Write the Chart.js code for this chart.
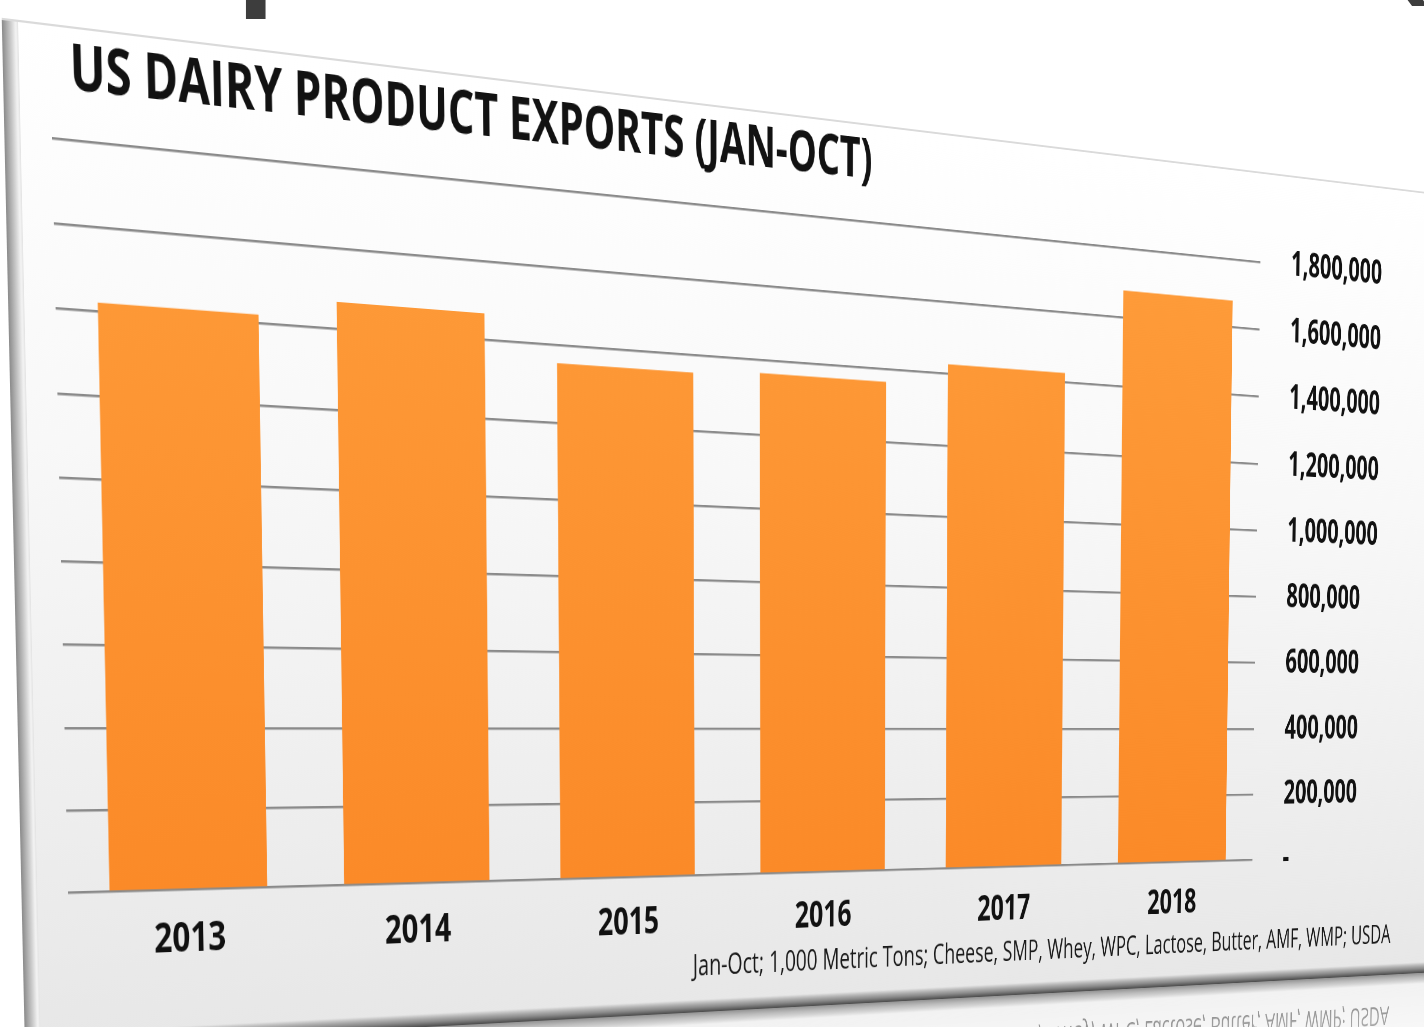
<!DOCTYPE html>
<html>
<head>
<meta charset="utf-8">
<title>US Dairy Product Exports</title>
<script src="https://cdn.jsdelivr.net/npm/chart.js@4.4.1/dist/chart.umd.min.js"></script>
<style>
  html, body { margin: 0; padding: 0; background: #fff; width: 1424px; height: 1027px; overflow: hidden; position: relative; }
  #card {
    position: absolute; left: 0; top: 0;
    transform-origin: 0 0;
    -webkit-box-reflect: below 0px linear-gradient(to bottom, transparent 82%, rgba(0, 0, 0, 0.6));
  }
  #slideHead { position: absolute; left: 0; top: 0; }
</style>
</head>
<body>
<svg id="slideHead" width="1424" height="60">
  <text x="232" y="-22" font-family="Open Sans" font-weight="600" font-size="170" fill="#3d3d3d">p</text>
  <text x="1384" y="-18" font-family="Open Sans" font-weight="600" font-size="150" fill="#3d3d3d">(</text>
</svg>
<canvas id="card" width="2600" height="992"></canvas>
<script>
const years = ['2013', '2014', '2015', '2016', '2017', '2018'];
const exportTons = [1422000, 1468000, 1354000, 1366000, 1427000, 1678000];
const yMax = 1800000;
const yStep = 200000;
const chartTitle = 'US DAIRY PRODUCT EXPORTS (JAN-OCT)';
const sourceNote = 'Jan-Oct; 1,000 Metric Tons; Cheese, SMP, Whey, WPC, Lactose, Butter, AMF, WMP; USDA';

// where the plot corners land once the card is tilted (TL, TR, BR, BL)
const plotQuad = [[52, 138], [1260, 262], [1252, 860], [68, 893]];

// unit square -> quad homography, rows of a 3x3 matrix
function squareToQuad(q) {
  const [x0, y0] = q[0], [x1, y1] = q[1], [x2, y2] = q[2], [x3, y3] = q[3];
  const dx1 = x1 - x2, dx2 = x3 - x2, dx3 = x0 - x1 + x2 - x3;
  const dy1 = y1 - y2, dy2 = y3 - y2, dy3 = y0 - y1 + y2 - y3;
  const den = dx1 * dy2 - dx2 * dy1;
  const g = (dx3 * dy2 - dx2 * dy3) / den;
  const h = (dx1 * dy3 - dx3 * dy1) / den;
  return [
    [x1 - x0 + g * x1, x3 - x0 + h * x3, x0],
    [y1 - y0 + g * y1, y3 - y0 + h * y3, y0],
    [g, h, 1]
  ];
}

const barFill = (c) => {
  const { ctx, chartArea } = c.chart;
  if (!chartArea) return '#fd9433';
  const g = ctx.createLinearGradient(0, chartArea.top, 0, chartArea.bottom);
  g.addColorStop(0, '#fe9c3a');
  g.addColorStop(1, '#fb8a28');
  return g;
};

const EDGE = 20;

// card background, bevelled edges, title and source line
const cardFace = {
  id: 'cardFace',
  beforeDraw(chart) {
    const { ctx, width, height } = chart;
    ctx.save();
    const bg = ctx.createLinearGradient(0, 0, 0, height);
    bg.addColorStop(0, '#ffffff');
    bg.addColorStop(0.4, '#f8f8f8');
    bg.addColorStop(1, '#e7e7e7');
    ctx.fillStyle = bg;
    ctx.fillRect(0, 0, width, height);

    const edge = ctx.createLinearGradient(0, 0, EDGE, 0);
    edge.addColorStop(0, '#8a8a8a');
    edge.addColorStop(0.55, '#cdcdcd');
    edge.addColorStop(0.85, '#f4f4f4');
    edge.addColorStop(1, '#e2e2e2');
    ctx.fillStyle = edge;
    ctx.fillRect(0, 0, EDGE, height);

    const base = ctx.createLinearGradient(0, height - 14, 0, height);
    base.addColorStop(0, 'rgba(120,120,120,0)');
    base.addColorStop(0.6, '#8c8c8c');
    base.addColorStop(1, '#4a4a4a');
    ctx.fillStyle = base;
    ctx.fillRect(0, height - 14, width, 14);

    ctx.fillStyle = '#dadada';
    ctx.fillRect(0, 0, width, 2);
    ctx.restore();
  },
  afterDraw(chart) {
    const { ctx, chartArea: a } = chart;
    const pw = a.right - a.left, ph = a.bottom - a.top;
    ctx.save();
    ctx.fillStyle = '#121212';
    ctx.textBaseline = 'alphabetic';
    ctx.font = '700 60px "Open Sans"';
    ctx.textAlign = 'left';
    ctx.fillText(chartTitle, a.left + 24, a.top - 48);
    ctx.fillStyle = '#1a1a1a';
    ctx.font = '400 32px "Open Sans"';
    ctx.textAlign = 'right';
    ctx.fillText(sourceNote, a.left + 1.153 * pw, a.bottom + 0.152 * ph);
    ctx.restore();
  }
};

const canvas = document.getElementById('card');
const chart = new Chart(canvas, {
  type: 'bar',
  data: {
    labels: years,
    datasets: [{
      data: exportTons,
      backgroundColor: barFill,
      borderWidth: 0,
      barPercentage: 0.663,
      categoryPercentage: 1
    }]
  },
  options: {
    responsive: false,
    animation: false,
    devicePixelRatio: 1,
    layout: { padding: { left: EDGE + 39, top: 108, right: 325, bottom: 52 } },
    plugins: {
      legend: { display: false },
      tooltip: { enabled: false }
    },
    scales: {
      x: {
        grid: { display: false, drawTicks: false },
        border: { display: false },
        ticks: {
          padding: 25,
          color: '#111',
          font: { family: 'Open Sans', weight: '700', size: 42 }
        }
      },
      y: {
        position: 'right',
        min: 0,
        max: yMax,
        grid: { color: '#8a8a8a', lineWidth: 2.5, drawTicks: false },
        border: { display: false },
        ticks: {
          stepSize: yStep,
          padding: 62,
          color: '#111',
          font: { family: 'Open Sans', weight: '700', size: 41 },
          callback: v => v === 0 ? '-' : v.toLocaleString('en-US')
        }
      }
    }
  },
  plugins: [cardFace]
});

// tilt the flat card so its plot area sits on plotQuad
function tiltCard(chart) {
  const a = chart.chartArea;
  const H = squareToQuad(plotQuad);
  const pw = a.right - a.left, ph = a.bottom - a.top;
  const m = H.map(r => [r[0] / pw, r[1] / ph, r[2] - r[0] * a.left / pw - r[1] * a.top / ph]);
  canvas.style.transform = 'matrix3d(' + [
    m[0][0], m[1][0], 0, m[2][0],
    m[0][1], m[1][1], 0, m[2][1],
    0, 0, 1, 0,
    m[0][2], m[1][2], 0, m[2][2]
  ].join(',') + ')';
}
tiltCard(chart);
</script>
</body>
</html>
